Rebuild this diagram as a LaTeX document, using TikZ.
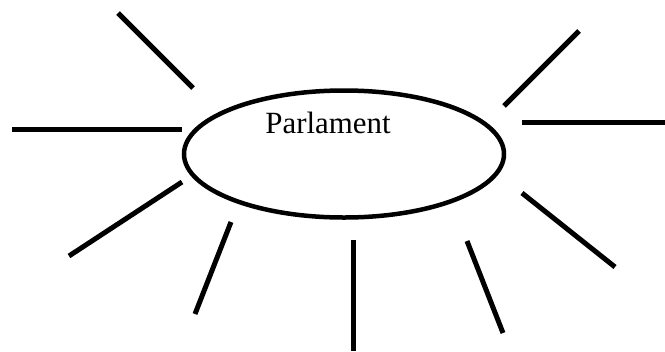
\documentclass[tikz,border=0pt]{standalone}
\usepackage{fontspec}
\setmainfont{Liberation Serif}
\usetikzlibrary{shapes.geometric}

\begin{document}
\begin{tikzpicture}[x=1bp,y=-1bp, spoke/.style={line width=5bp}]
        \useasboundingbox (0,0) rectangle (665,351);
        \node[draw, ellipse, line width=4.5bp, minimum width=320bp, minimum height=127bp, inner sep=0pt] (parl) at (344,154) {};
        \node[font=\fontsize{31}{37}\selectfont, anchor=base] (name) at (328,133) {Parlament};
        % spokes round the ellipse
        \foreach \n/\xa/\ya/\xb/\yb in {a/118/13/193/88, b/12/129/182/129, c/69/256/182/182,
                d/231/222/195/314, e/353/240/353/351, f/467/241/503/333,
                g/522/193/615/267, h/522/122/665/122, i/504/106/579/31} {
            \coordinate (\n1) at (\xa,\ya);
            \coordinate (\n2) at (\xb,\yb);
            \draw[spoke] (\n1) -- (\n2);
        }
    \end{tikzpicture}
\end{document}
